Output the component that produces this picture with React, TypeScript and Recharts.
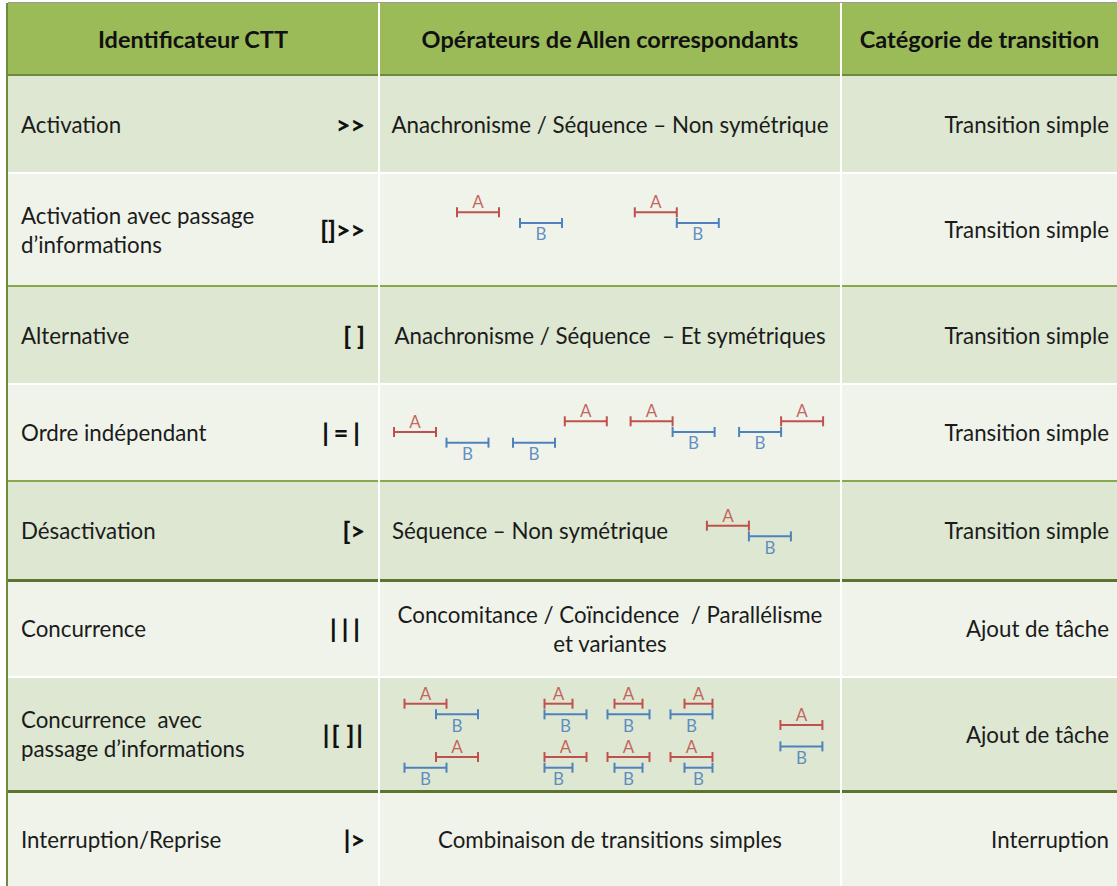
import React from 'react';
import { ComposedChart, Line, Scatter, XAxis, YAxis } from 'recharts';

// ---- table content ----
const HEADERS = ['Identificateur CTT', 'Opérateurs de Allen correspondants', 'Catégorie de transition'];

const IDENTIFIERS = [
  ['Activation'],
  ['Activation avec passage', 'd’informations'],
  ['Alternative'],
  ['Ordre indépendant'],
  ['Désactivation'],
  ['Concurrence'],
  ['Concurrence  avec', 'passage d’informations'],
  ['Interruption/Reprise'],
];

const SYMBOLS = ['>>', '[]>>', '[ ]', '|=|', '[>', '|||', '|[ ]|', '|>'];

const OPERATORS = [
  ['Anachronisme / Séquence – Non symétrique'],
  [],
  ['Anachronisme / Séquence  – Et symétriques'],
  [],
  ['Séquence – Non symétrique'],
  ['Concomitance / Coïncidence  / Parallélisme', 'et variantes'],
  [],
  ['Combinaison de transitions simples'],
];

const CATEGORIES = [
  'Transition simple',
  'Transition simple',
  'Transition simple',
  'Transition simple',
  'Transition simple',
  'Ajout de tâche',
  'Ajout de tâche',
  'Interruption',
];

// ---- Allen interval diagrams (time units, lane index) ----
type Interval = { task: 'A' | 'B'; start: number; end: number; lane: number };

const ACTIVATION_INFO_INTERVALS: Interval[] = [
  { task: 'A', start: 5.5, end: 8.5, lane: 0 },
  { task: 'B', start: 10, end: 13, lane: 1 },
  { task: 'A', start: 18.2, end: 21.2, lane: 0 },
  { task: 'B', start: 21.2, end: 24.2, lane: 1 },
];

const ORDRE_INTERVALS: Interval[] = [
  { task: 'A', start: 1, end: 4, lane: 1 },
  { task: 'B', start: 4.75, end: 7.75, lane: 2 },
  { task: 'B', start: 9.5, end: 12.5, lane: 2 },
  { task: 'A', start: 13.2, end: 16.2, lane: 0 },
  { task: 'A', start: 17.9, end: 20.9, lane: 0 },
  { task: 'B', start: 20.9, end: 23.9, lane: 1 },
  { task: 'B', start: 25.65, end: 28.65, lane: 1 },
  { task: 'A', start: 28.65, end: 31.65, lane: 0 },
];

const DESACTIVATION_INTERVALS: Interval[] = [
  { task: 'A', start: 23.35, end: 26.35, lane: 0 },
  { task: 'B', start: 26.35, end: 29.35, lane: 1 },
];

const CONCURRENCE_INFO_INTERVALS: Interval[] = [
  // overlaps / overlapped by
  { task: 'A', start: 1.75, end: 4.75, lane: 0 },
  { task: 'B', start: 4, end: 7, lane: 1 },
  { task: 'A', start: 4, end: 7, lane: 5 },
  { task: 'B', start: 1.75, end: 4.75, lane: 6 },
  // starts / started by
  { task: 'A', start: 11.75, end: 13.75, lane: 0 },
  { task: 'B', start: 11.75, end: 14.75, lane: 1 },
  { task: 'A', start: 11.75, end: 14.75, lane: 5 },
  { task: 'B', start: 11.75, end: 13.75, lane: 6 },
  // during / contains
  { task: 'A', start: 16.75, end: 18.75, lane: 0 },
  { task: 'B', start: 16.25, end: 19.25, lane: 1 },
  { task: 'A', start: 16.25, end: 19.25, lane: 5 },
  { task: 'B', start: 16.75, end: 18.75, lane: 6 },
  // finishes / finished by
  { task: 'A', start: 21.75, end: 23.75, lane: 0 },
  { task: 'B', start: 20.75, end: 23.75, lane: 1 },
  { task: 'A', start: 20.75, end: 23.75, lane: 5 },
  { task: 'B', start: 21.75, end: 23.75, lane: 6 },
  // equals
  { task: 'A', start: 28.6, end: 31.6, lane: 2 },
  { task: 'B', start: 28.6, end: 31.6, lane: 4 },
];

const TASK_COLORS = { A: '#C0504D', B: '#4F81BD' };

// ---- layout ----
const FONT = 'Lato, "Open Sans", sans-serif';
const ROW_TOP = [76, 174, 287, 385, 482, 581, 678, 792];
const ROW_H = [96, 111, 96, 95, 97, 95, 112, 94];
const ROW_FILL = ['#DDE7D1', '#EFF3EA', '#DDE7D1', '#EFF3EA', '#DDE7D1', '#EFF3EA', '#DDE7D1', '#EFF3EA'];
const COL_X = [8, 380, 842];
const COL_W = [370, 460, 275];
const UNIT_PX = 14;
const LANE_PX = 10.67;

const DIAGRAMS: { row: number; intervals: Interval[]; laneTop: number }[] = [
  { row: 1, intervals: ACTIVATION_INFO_INTERVALS, laneTop: 38.3 },
  { row: 3, intervals: ORDRE_INTERVALS, laneTop: 36.3 },
  { row: 4, intervals: DESACTIVATION_INTERVALS, laneTop: 43.7 },
  { row: 6, intervals: CONCURRENCE_INFO_INTERVALS, laneTop: 25.7 },
];

const CapDot = (props: any) => {
  const { cx, cy, stroke, index } = props;
  if (cx == null || cy == null) return <g key={index} />;
  return <line key={index} x1={cx} x2={cx} y1={cy - 5} y2={cy + 5} stroke={stroke} strokeWidth={2} />;
};

const LetterShape = (props: any) => {
  const { cx, cy, payload } = props;
  return (
    <text x={cx} y={cy} textAnchor="middle" dominantBaseline="central" fontFamily={FONT} fontSize={17}
      fill={TASK_COLORS[payload.task as 'A' | 'B']} fillOpacity={0.88}>
      {payload.task}
    </text>
  );
};

function IntervalDiagram({ intervals, width, height, laneTop }: { intervals: Interval[]; width: number; height: number; laneTop: number }) {
  const letters = intervals.map((iv) => ({
    x: (iv.start + iv.end) / 2,
    y: iv.task === 'A' ? iv.lane - 1 : iv.lane + 1,
    task: iv.task,
  }));
  return (
    <ComposedChart width={width} height={height} margin={{ top: 0, right: 0, bottom: 0, left: 0 }}>
      <XAxis type="number" dataKey="x" domain={[0, width / UNIT_PX]} allowDataOverflow hide />
      <YAxis type="number" dataKey="y" domain={[-laneTop / LANE_PX, (height - laneTop) / LANE_PX]} allowDataOverflow reversed hide />
      {intervals.map((iv, i) => (
        <Line
          key={i}
          data={[{ x: iv.start, y: iv.lane }, { x: iv.end, y: iv.lane }]}
          dataKey="y"
          stroke={TASK_COLORS[iv.task]}
          strokeWidth={2}
          dot={<CapDot />}
          activeDot={false}
          isAnimationActive={false}
        />
      ))}
      <Scatter data={letters} dataKey="y" shape={<LetterShape />} isAnimationActive={false} />
    </ComposedChart>
  );
}

const textBase: React.CSSProperties = {
  position: 'absolute',
  fontFamily: FONT,
  fontSize: 22.3,
  lineHeight: '29px',
  color: '#1b1b1b',
  display: 'flex',
  flexDirection: 'column',
  justifyContent: 'center',
  whiteSpace: 'pre',
};

function HLine({ y, h, color, dashedCol2 }: { y: number; h: number; color: string; dashedCol2?: boolean }) {
  if (!dashedCol2) {
    return <div style={{ position: 'absolute', left: 8, top: y, width: 1109, height: h, background: color }} />;
  }
  return (
    <>
      <div style={{ position: 'absolute', left: 8, top: y, width: 371, height: h, background: color }} />
      <div style={{ position: 'absolute', left: 380, top: y, width: 460, height: h,
        background: `repeating-linear-gradient(to right, ${color} 0 7px, transparent 7px 11px)` }} />
      <div style={{ position: 'absolute', left: 840, top: y, width: 277, height: h, background: color }} />
    </>
  );
}

const symbolText = (s: string) => (s === '|[ ]|' ? '|[\u2009]|' : s);
const symbolSpacing = (s: string) => (s === '|||' || s === '|=|' ? 5 : s === '|[ ]|' ? 2 : 0);

export default function App() {
  return (
    <div style={{ position: 'absolute', left: 0, top: 0, width: 1117, height: 886, overflow: 'hidden', background: '#fff' }}>
      {/* header band */}
      <div style={{ position: 'absolute', left: 8, top: 3, width: 1109, height: 72, background: '#9BBB59' }} />
      <div style={{ position: 'absolute', left: 8, top: 2, width: 1109, height: 1, background: '#9a9a9a' }} />
      {ROW_TOP.map((t, i) => (
        <div key={i} style={{ position: 'absolute', left: 8, top: t, width: 1109, height: ROW_H[i], background: ROW_FILL[i] }} />
      ))}

      {/* row separators */}
      <HLine y={74} h={2} color="#6E8B3D" />
      <HLine y={172} h={2} color="#ffffff" dashedCol2 />
      <HLine y={285} h={2} color="#88A84E" />
      <HLine y={383} h={2} color="#ffffff" dashedCol2 />
      <HLine y={480} h={2} color="#88A84E" />
      <HLine y={579} h={2.5} color="#5C7430" />
      <HLine y={676} h={2} color="#ffffff" dashedCol2 />
      <HLine y={790} h={2.5} color="#5C7430" />

      {/* column separators */}
      <div style={{ position: 'absolute', left: 378, top: 3, width: 2, height: 883, background: '#ffffff' }} />
      <div style={{ position: 'absolute', left: 840, top: 3, width: 2, height: 883, background: '#ffffff' }} />
      <div style={{ position: 'absolute', left: 6, top: 3, width: 2, height: 883, background: '#6E8B3D' }} />

      {/* header text */}
      {HEADERS.map((h, i) => (
        <div key={h} style={{ ...textBase, left: COL_X[i], top: 3, width: COL_W[i], height: 72, fontSize: 23.5, fontWeight: 700, color: '#111', textAlign: 'center' }}>
          {h}
        </div>
      ))}

      {/* body text */}
      {ROW_TOP.map((t, i) => (
        <React.Fragment key={i}>
          <div style={{ ...textBase, left: 21, top: t, width: 300, height: ROW_H[i] }}>
            {IDENTIFIERS[i].map((l) => <span key={l}>{l}</span>)}
          </div>
          <div style={{ ...textBase, left: 8, top: t, width: 357, height: ROW_H[i], textAlign: 'right', fontSize: 25, fontWeight: 900, color: '#111',
            letterSpacing: symbolSpacing(SYMBOLS[i]) }}>
            {symbolText(SYMBOLS[i])}
          </div>
          {OPERATORS[i].length > 0 && (
            <div style={{ ...textBase, left: i === 4 ? 392 : 380, top: t, width: i === 4 ? 300 : 460, height: ROW_H[i], textAlign: i === 4 ? 'left' : 'center' }}>
              {OPERATORS[i].map((l) => <span key={l}>{l}</span>)}
            </div>
          )}
          <div style={{ ...textBase, left: 842, top: t, width: 267, height: ROW_H[i], textAlign: 'right' }}>
            {CATEGORIES[i]}
          </div>
        </React.Fragment>
      ))}

      {/* Allen diagrams */}
      {DIAGRAMS.map((d) => (
        <div key={d.row} style={{ position: 'absolute', left: 380, top: ROW_TOP[d.row], width: 460, height: ROW_H[d.row] }}>
          <IntervalDiagram intervals={d.intervals} width={460} height={ROW_H[d.row]} laneTop={d.laneTop} />
        </div>
      ))}
    </div>
  );
}
